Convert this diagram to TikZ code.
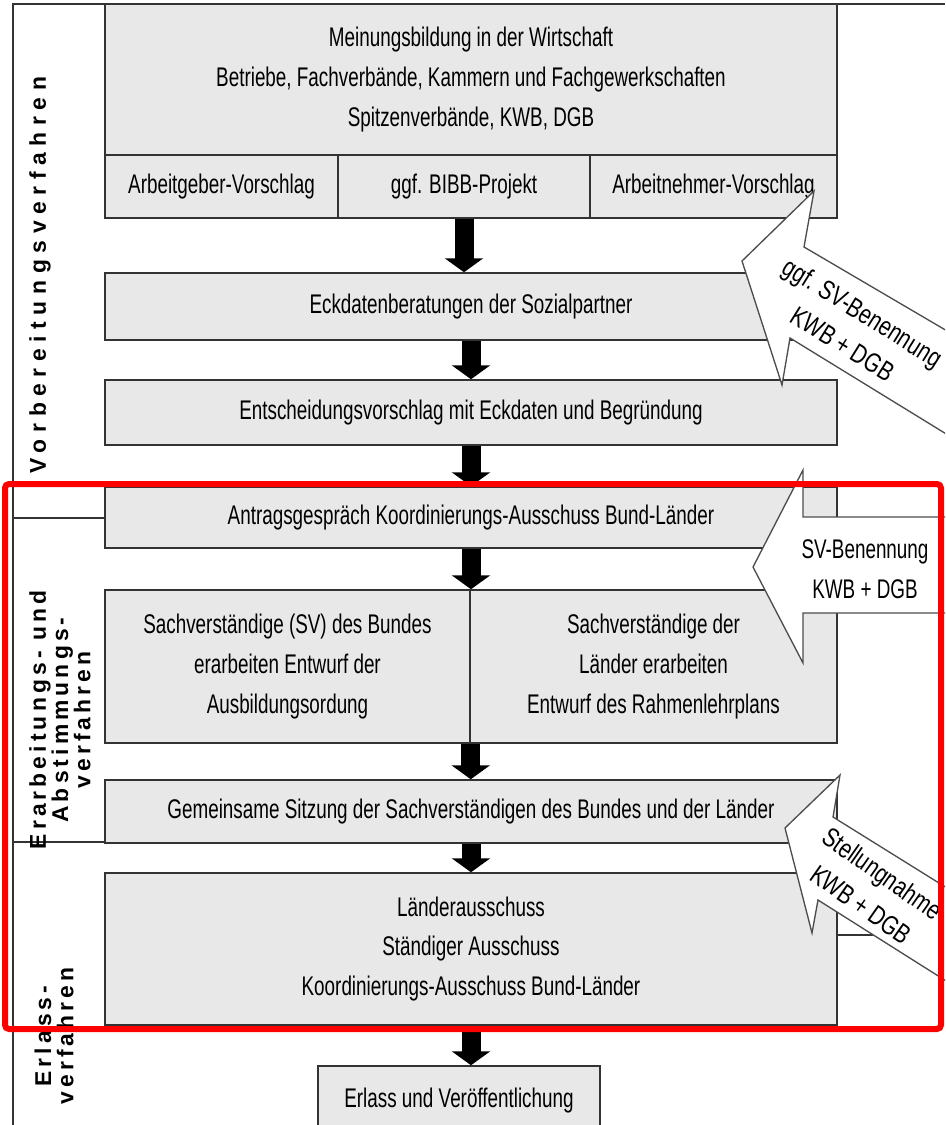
\documentclass[tikz,border=0pt]{standalone}
\usepackage{fontspec}
\setmainfont{Liberation Sans}
\newfontfamily\narrowfont{Liberation Sans}[FakeStretch=0.70]
\newfontfamily\tiltfont{Liberation Sans}[FakeStretch=0.77]
\newfontfamily\phasefont{Liberation Sans}[LetterSpace=18]
\usetikzlibrary{arrows.meta}
\definecolor{boxfill}{HTML}{E8E8E8}
\definecolor{boxline}{HTML}{333333}
\definecolor{calloutline}{HTML}{4D4D4D}
\newcommand{\boxfont}{\narrowfont\fontsize{23pt}{34pt}\selectfont}
\newcommand{\tiltbox}{\tiltfont\fontsize{23pt}{32pt}\selectfont}
\newcommand{\phasetext}{\phasefont\bfseries\fontsize{19.5pt}{19pt}\selectfont}
\tikzset{
  box/.style={draw=boxline, fill=boxfill, line width=0.045cm, inner sep=0pt, align=center, font=\boxfont},
  cell/.style 2 args={minimum width=#1*0.03cm, minimum height=#2*0.03cm},
  flow/.style={line width=0.57cm, -{Triangle[width=1.14cm, length=0.42cm]}},
  callout/.style={draw=calloutline, fill=white, line width=0.04cm, line join=miter},
  callouttext/.style={align=center, font=\boxfont, inner sep=0pt},
  tilttext/.style={align=center, font=\tiltbox, inner sep=0pt},
  phase/.style={rotate=90, align=center, font=\phasetext, inner sep=0pt},
  frame/.style={draw=boxline, line width=0.045cm}
}

\begin{document}
\begin{tikzpicture}[x=0.03cm, y=-0.03cm]
  \useasboundingbox (0,0) rectangle (945,1125);
  \clip (0,0) rectangle (945,1125);

  \coordinate (ftl) at (13,4);
  \coordinate (ftr) at (945,4);
  \coordinate (fbl) at (13,1125);
  \coordinate (sep1) at (13,518);
  \coordinate (sep2) at (13,842);
  \coordinate (stub) at (837,935);

  \draw[frame] (ftr) -- (ftl) -- (fbl);
  \draw[frame] (sep1) -- ++(92,0);
  \draw[frame] (sep2) -- ++(92,0);
  \draw[frame] (stub) -- ++(36,0);

  \node[box, cell={732}{151}] (wirt) at (471,79.5) {Meinungsbildung in der Wirtschaft\\Betriebe, Fachverbände, Kammern und Fachgewerkschaften\\Spitzenverbände, KWB, DGB};
  \node[box, cell={233}{63}] (agv) at (221.5,186.5) {Arbeitgeber-Vorschlag};
  \node[box, cell={252}{63}] (bibb) at (464,186.5) {ggf. BIBB-Projekt};
  \node[box, cell={247}{63}] (anv) at (713.5,186.5) {Arbeitnehmer-Vorschlag};
  \node[box, cell={732}{67}] (eck) at (471,306.5) {Eckdatenberatungen der Sozialpartner};
  \node[box, cell={732}{65}] (ent) at (471,412.5) {Entscheidungsvorschlag mit Eckdaten und Begründung};
  \node[box, cell={732}{61}] (antrag) at (471,517.5) {Antragsgespräch Koordinierungs-Ausschuss Bund-Länder};
  \node[box, cell={365}{153}] (svbund) at (287.5,666.5) {Sachverständige (SV) des Bundes\\erarbeiten Entwurf der\\Ausbildungsordung};
  \node[box, cell={367}{153}] (svland) at (653.5,666.5) {Sachverständige der\\Länder erarbeiten\\Entwurf des Rahmenlehrplans};
  \node[box, cell={732}{63}] (sitzung) at (471,811.5) {Gemeinsame Sitzung der Sachverständigen des Bundes und der Länder};
  \node[box, cell={732}{152}] (ausschuss) at (471,949) {Länderausschuss\\Ständiger Ausschuss\\Koordinierungs-Ausschuss Bund-Länder};
  \node[box, cell={282}{70}] (erlass) at (459,1101) {Erlass und Veröffentlichung};

  \draw[flow] (bibb.south) -- (bibb.south |- eck.north);
  \draw[flow] (eck.south) -- (ent.north);
  \draw[flow] (ent.south) -- (antrag.north);
  \draw[flow] (antrag.south) -- (antrag.south |- svbund.north);
  \draw[flow] (svbund.south east) -- (svbund.south east |- sitzung.north);
  \draw[flow] (sitzung.south) -- (ausschuss.north);
  \draw[flow] (ausschuss.south) -- (ausschuss.south |- erlass.north);

  \coordinate (c1tip) at (742,261);
  \coordinate (c1top) at (814,191);
  \coordinate (c1bot) at (782,385);
  \coordinate (c1in1) at (804,247);
  \coordinate (c1in2) at (790,338);
  \coordinate (c1end1) at (1000,362);
  \coordinate (c1end2) at (1000,467);
  \draw[callout] (c1tip) -- (c1top) -- (c1in1) -- (c1end1) -- (c1end2) -- (c1in2) -- (c1bot) -- cycle;
  \node[tilttext, rotate=-32] (c1text) at (853,328) {ggf. SV-Benennung\\KWB + DGB};

  \coordinate (c2tip) at (753,567);
  \coordinate (c2top) at (803,470);
  \coordinate (c2bot) at (803,663);
  \coordinate (c2in1) at (803,517);
  \coordinate (c2in2) at (803,613);
  \coordinate (c2end1) at (1000,517);
  \coordinate (c2end2) at (1000,613);
  \draw[callout] (c2tip) -- (c2top) -- (c2in1) -- (c2end1) -- (c2end2) -- (c2in2) -- (c2bot) -- cycle;
  \node[callouttext] (c2text) at (865,569) {SV-Benennung\\KWB + DGB};

  \coordinate (c3tip) at (785,828);
  \coordinate (c3top) at (840,775);
  \coordinate (c3bot) at (812,933);
  \coordinate (c3in1) at (833,817);
  \coordinate (c3in2) at (818,900);
  \coordinate (c3end1) at (1000,921);
  \coordinate (c3end2) at (1000,1015);
  \draw[callout] (c3tip) -- (c3top) -- (c3in1) -- (c3end1) -- (c3end2) -- (c3in2) -- (c3bot) -- cycle;
  \node[tilttext, rotate=-35] (c3text) at (872,889) {Stellungnahme\\KWB + DGB};

  \node[phase, font=\phasetext\addfontfeature{LetterSpace=29}] (vorb) at (40,275) {Vorbereitungsverfahren};
  \node[phase] (erarb) at (60,720) {Erarbeitungs- und\\Abstimmungs-\\verfahren};
  \node[phase] (erl) at (54,1036) {Erlass-\\verfahren};

  \draw[red, line width=0.18cm, rounded corners=0.12cm] (5,484) rectangle (941,1029);
\end{tikzpicture}
\end{document}
